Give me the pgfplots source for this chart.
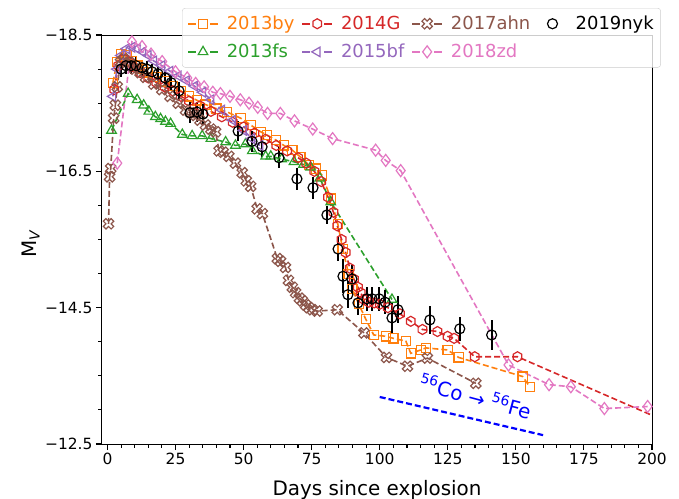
\documentclass[border=0pt]{standalone}
\usepackage{fontspec}
\setmainfont{DejaVu Sans}
\usepackage{pgfplots}
\pgfplotsset{compat=1.18}
\usetikzlibrary{plotmarks}

\definecolor{cOrange}{HTML}{FF7F0E}
\definecolor{cRed}{HTML}{D62728}
\definecolor{cBrown}{HTML}{8C564B}
\definecolor{cGreen}{HTML}{2CA02C}
\definecolor{cPurple}{HTML}{9467BD}
\definecolor{cPink}{HTML}{E377C2}

% hexagon outline, pointy top
\pgfdeclareplotmark{hexagon}{%
  \pgfpathmoveto{\pgfpointpolar{90}{\pgfplotmarksize}}%
  \pgfpathlineto{\pgfpointpolar{150}{\pgfplotmarksize}}%
  \pgfpathlineto{\pgfpointpolar{210}{\pgfplotmarksize}}%
  \pgfpathlineto{\pgfpointpolar{270}{\pgfplotmarksize}}%
  \pgfpathlineto{\pgfpointpolar{330}{\pgfplotmarksize}}%
  \pgfpathlineto{\pgfpointpolar{30}{\pgfplotmarksize}}%
  \pgfpathclose
  \pgfusepathqstroke
}
% outlined "filled x" cross
\newdimen\xarm
\pgfdeclareplotmark{xfill}{%
  \xarm=\pgfplotmarksize \divide\xarm by 3
  \pgftransformrotate{45}%
  \pgfpathmoveto{\pgfpoint{\xarm}{\pgfplotmarksize}}%
  \pgfpathlineto{\pgfpoint{\xarm}{\xarm}}%
  \pgfpathlineto{\pgfpoint{\pgfplotmarksize}{\xarm}}%
  \pgfpathlineto{\pgfpoint{\pgfplotmarksize}{-\xarm}}%
  \pgfpathlineto{\pgfpoint{\xarm}{-\xarm}}%
  \pgfpathlineto{\pgfpoint{\xarm}{-\pgfplotmarksize}}%
  \pgfpathlineto{\pgfpoint{-\xarm}{-\pgfplotmarksize}}%
  \pgfpathlineto{\pgfpoint{-\xarm}{-\xarm}}%
  \pgfpathlineto{\pgfpoint{-\pgfplotmarksize}{-\xarm}}%
  \pgfpathlineto{\pgfpoint{-\pgfplotmarksize}{\xarm}}%
  \pgfpathlineto{\pgfpoint{-\xarm}{\xarm}}%
  \pgfpathlineto{\pgfpoint{-\xarm}{\pgfplotmarksize}}%
  \pgfpathclose
  \pgfusepathqstroke
}

\pgfplotsset{
  sn/.style={line width=1.6bp, dash pattern=on 6bp off 3bp,
    mark options={solid, line width=1.2bp}},
  handle/.style={legend image code/.code={%
    \draw[##1, solid, sharp corners, mark=none] (0bp,0bp) -- (8bp,0bp) (22bp,0bp) -- (30bp,0bp);
    \draw[##1, solid, sharp corners] plot coordinates {(15bp,0bp)};}},
  dot/.style={legend image code/.code={%
    \path (0bp,0bp) (30bp,0bp);
    \draw[##1, solid, sharp corners] plot coordinates {(15bp,0bp)};}},
}

\begin{document}
\begin{tikzpicture}
\begin{axis}[
  name=ax,
  scale only axis, width=550bp, height=409bp,
  xmin=-2, xmax=200, ymin=-18.5, ymax=-12.5, y dir=reverse,
  xtick={0,25,...,200}, minor x tick num=4,
  ytick={-18.5,-16.5,-14.5,-12.5},
  yticklabels={−18.5,−16.5,−14.5,−12.5},
  minor y tick num=3,
  xtick pos=bottom, ytick pos=left, tick align=outside,
  major tick length=6bp, minor tick length=3.5bp,
  tick style={black, line width=1.1bp},
  axis line style={line width=1bp},
  ticklabel style={font=\fontsize{15.5}{18}\selectfont},
  /pgf/number format/assume math mode=true,
  xlabel={Days since explosion},
  xlabel style={font=\fontsize{20}{24}\selectfont, at={(axis description cs:0.5,0)},
    anchor=north, yshift=-36bp, inner sep=0pt},
  ylabel={M\textsubscript{\itshape V}},
  ylabel style={font=\fontsize{20}{24}\selectfont, at={(axis description cs:-0.113,0.49)},
    anchor=south, inner sep=0pt},
  legend columns=4,
  legend style={at={(axis description cs:0.1455,1.066)}, anchor=north west,
    draw=black!20, fill=white, fill opacity=0.8, text opacity=1,
    rounded corners=3bp, font=\fontsize{18}{21}\selectfont,
    inner xsep=5bp, inner ysep=6bp, row sep=9bp,
    /tikz/every odd column/.append style={column sep=6bp},
    /tikz/every even column/.append style={column sep=5bp}},
  legend cell align=left,
]

% SN 2013by
\addplot[sn, cOrange, mark=square, mark size=4.6bp, forget plot] coordinates {
(2,-17.80) (3.5,-18.10) (5,-18.22) (7,-18.20) (9,-18.12) (11,-18.05) (13,-18.00)
(15,-17.95) (18,-17.88) (21,-17.82) (24,-17.75) (27,-17.68) (30,-17.60) (33,-17.54)
(36,-17.48) (40,-17.42) (44,-17.37) (48.9,-17.28) (52.6,-17.18) (56.3,-17.08)
(58.7,-17.03) (61.8,-16.96) (64.8,-16.88) (67.9,-16.81) (70.9,-16.71) (74,-16.59)
(76.5,-16.54) (78.9,-16.44) (82,-16.10) (84.6,-15.73) (86.4,-15.36) (88.6,-14.99)
(90,-14.77) (92.3,-14.55) (94.9,-14.33) (97.8,-14.10) (102.2,-14.08) (105,-14.05)
(109.6,-14.01) (111.4,-13.83) (115.1,-13.88) (116.9,-13.91) (124.9,-13.88)
(129,-13.77) (152.5,-13.49) (155.1,-13.34)
};

% SN 2013fs
\addplot[sn, cGreen, mark=triangle, mark size=5.5bp, forget plot] coordinates {
(1.5,-17.10) (7.6,-17.64) (10.9,-17.55) (13.3,-17.47) (15.2,-17.38) (17.6,-17.30)
(19.5,-17.27) (21.3,-17.23) (23.2,-17.20) (27.5,-17.04) (31.1,-17.02) (34.8,-17.02)
(38,-16.98) (43.4,-16.93) (47,-16.88) (50.7,-16.90) (53.2,-16.80) (58.1,-16.72)
(60,-16.72) (64,-16.68) (68.5,-16.64) (72,-16.60) (74.6,-16.56) (78,-16.40)
(82,-16.05) (104.5,-14.62)
};

% SN 2014G
\addplot[sn, cRed, mark=hexagon, mark size=5bp, forget plot] coordinates {
(2.5,-17.70) (4,-18.05) (6,-18.15) (8,-18.10) (10,-18.02) (12,-17.95) (15,-17.87)
(18,-17.80) (21,-17.74) (24,-17.68) (27,-17.60) (30,-17.53) (34,-17.46) (38,-17.38)
(42,-17.30) (46,-17.22) (50,-17.15) (54,-17.06) (58,-16.97) (62,-16.88) (66,-16.80)
(70,-16.70) (73,-16.62) (76,-16.50) (78.5,-16.35) (81,-16.12) (83,-15.90)
(84.4,-15.70) (86,-15.50) (87.5,-15.31) (89,-15.08) (90.5,-14.92) (92,-14.80)
(93,-14.72) (94.2,-14.62) (96,-14.58) (98,-14.57) (100,-14.55) (103,-14.50)
(107.4,-14.41) (111.4,-14.30) (115.7,-14.18) (121.2,-14.15) (124.9,-14.08)
(127.3,-14.05) (134.9,-13.78) (150.6,-13.78) (215,-12.66)
};

% SN 2015bf
\addplot[sn, cPurple, mark=triangle, mark size=5.5bp,
  mark options={solid, line width=1.2bp, rotate=90}, forget plot] coordinates {
(2,-17.60) (3.5,-18.00) (5,-18.20) (7,-18.30) (9,-18.32) (11,-18.30) (13,-18.25)
(15,-18.20) (17,-18.12) (20,-18.05) (23,-17.97) (26,-17.90) (29,-17.83) (32,-17.75)
(35,-17.66) (38,-17.55) (42,-17.40) (46,-17.25) (50,-17.10) (53,-16.98) (56,-16.88)
};

% SN 2017ahn
\addplot[sn, cBrown, mark=xfill, mark size=5.5bp, forget plot] coordinates {
(0.4,-15.73) (0.8,-16.42) (1.2,-16.54) (2.3,-17.28) (2.9,-17.47) (3.6,-17.74)
(4.8,-18.10) (6,-18.15) (8,-18.10) (10,-18.00) (12,-17.95) (14,-17.88) (17,-17.78)
(20,-17.70) (23,-17.60) (26,-17.50) (28.7,-17.40) (30.5,-17.36) (32.4,-17.32)
(34,-17.25) (36,-17.18) (38,-17.12) (39.7,-17.08) (41,-16.80) (42.5,-16.78)
(44.6,-16.72) (47,-16.62) (49.5,-16.48) (51,-16.36) (52.6,-16.28) (55,-15.95)
(56.9,-15.88) (62.4,-15.22) (63.6,-15.18) (65.4,-15.09) (66.5,-14.90) (67.9,-14.80)
(69.1,-14.72) (70.5,-14.64) (71.6,-14.60) (72.8,-14.54) (74,-14.50) (75.3,-14.47)
(77,-14.45) (84.4,-14.47) (94.2,-14.13) (102.5,-13.77) (110.2,-13.64)
(117.5,-13.76) (135.3,-13.39)
};

% SN 2018zd
\addplot[sn, cPink, mark=diamond, mark size=6bp, forget plot] coordinates {
(3.6,-16.62) (9,-18.40) (12.7,-18.33) (16,-18.22) (20.1,-18.11) (25,-17.96)
(29.3,-17.87) (32.4,-17.79) (35.5,-17.74) (38.7,-17.66) (41.5,-17.64) (45,-17.60)
(48.8,-17.55) (52,-17.50) (55.2,-17.44) (58.8,-17.35) (63.5,-17.35) (68.7,-17.24)
(75.4,-17.12) (82.7,-16.98) (98.5,-16.81) (102.2,-16.66) (107.7,-16.51)
(147.3,-13.66) (162.2,-13.37) (170.2,-13.34) (182.5,-13.02) (198.4,-13.05)
};

% SN 2019nyk with photometric errors
\addplot[black, only marks, mark=o, mark size=5bp,
  mark options={line width=1.2bp}, forget plot,
  error bars/.cd, y dir=both, y explicit,
  error bar style={line width=1.8bp}, error mark=none] coordinates {
(5.0,-18.00) +- (0,0.12) (6.8,-18.05) +- (0,0.12) (8.7,-18.05) +- (0,0.12)
(10.5,-18.05) +- (0,0.12) (12.7,-18.02) +- (0,0.12) (14.5,-18.00) +- (0,0.12)
(16.4,-17.96) +- (0,0.12) (18.6,-17.93) +- (0,0.12) (21.2,-17.87) +- (0,0.12)
(23.4,-17.80) +- (0,0.12) (26.3,-17.68) +- (0,0.13) (30.3,-17.36) +- (0,0.15)
(32.9,-17.37) +- (0,0.15) (35.1,-17.34) +- (0,0.15) (48,-17.09) +- (0,0.15)
(53.1,-16.94) +- (0,0.15) (56.8,-16.86) +- (0,0.15) (63,-16.70) +- (0,0.15)
(69.6,-16.39) +- (0,0.16) (75.5,-16.26) +- (0,0.16) (80.6,-15.86) +- (0,0.13)
(84.7,-15.36) +- (0,0.18) (86.5,-14.96) +- (0,0.25) (89.8,-14.92) +- (0,0.2)
(88.3,-14.69) +- (0,0.2) (92,-14.57) +- (0,0.18) (95.3,-14.63) +- (0,0.18)
(97.2,-14.63) +- (0,0.18) (99.8,-14.63) +- (0,0.18) (102,-14.58) +- (0,0.18)
(104.5,-14.35) +- (0,0.22) (106.7,-14.47) +- (0,0.2) (118.4,-14.32) +- (0,0.2)
(129.4,-14.19) +- (0,0.18) (141.1,-14.10) +- (0,0.22)
};

% radioactive decay slope
\addplot[blue, line width=2.2bp, dash pattern=on 6bp off 3bp, forget plot]
  coordinates {(100,-13.19) (160,-12.63)};
\node[text=blue, rotate=-15, font=\fontsize{20}{23}\selectfont]
  at (axis cs:135.2,-13.2) {\textsuperscript{56}Co → \textsuperscript{56}Fe};

% legend, in row order
\addlegendimage{handle, cOrange, line width=1.6bp, mark=square, mark size=4.6bp, mark options={solid, line width=1.2bp}}
\addlegendentry[text=cOrange]{2013by}
\addlegendimage{handle, cRed, line width=1.6bp, mark=hexagon, mark size=5bp, mark options={solid, line width=1.2bp}}
\addlegendentry[text=cRed]{2014G}
\addlegendimage{handle, cBrown, line width=1.6bp, mark=xfill, mark size=5.5bp, mark options={solid, line width=1.2bp}}
\addlegendentry[text=cBrown]{2017ahn}
\addlegendimage{dot, black, mark=o, mark size=5bp, mark options={solid, line width=1.2bp}}
\addlegendentry[text=black]{2019nyk}
\addlegendimage{handle, cGreen, line width=1.6bp, mark=triangle, mark size=5.5bp, mark options={solid, line width=1.2bp}}
\addlegendentry[text=cGreen]{2013fs}
\addlegendimage{handle, cPurple, line width=1.6bp, mark=triangle, mark size=5.5bp, mark options={solid, line width=1.2bp, rotate=90}}
\addlegendentry[text=cPurple]{2015bf}
\addlegendimage{handle, cPink, line width=1.6bp, mark=diamond, mark size=6bp, mark options={solid, line width=1.2bp}}
\addlegendentry[text=cPink]{2018zd}

\coordinate (bl) at (axis description cs:0,0);
\coordinate (tr) at (axis description cs:1,1);
\end{axis}
\pgfresetboundingbox
\path[use as bounding box] ([xshift=-102bp,yshift=-55bp]bl) rectangle ([xshift=27bp,yshift=35bp]tr);
\end{tikzpicture}
\end{document}
